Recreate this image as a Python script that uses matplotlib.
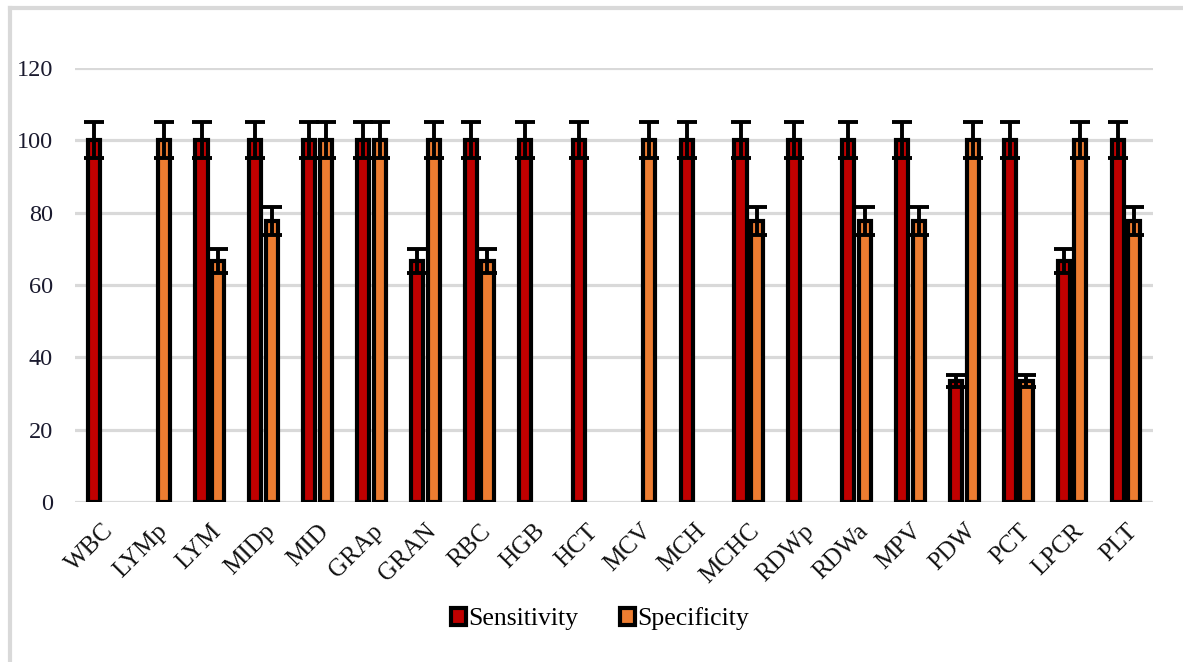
import numpy as np
import matplotlib.pyplot as plt
from matplotlib.lines import Line2D

params = ['WBC', 'LYMp', 'LYM', 'MIDp', 'MID', 'GRAp', 'GRAN', 'RBC', 'HGB', 'HCT',
          'MCV', 'MCH', 'MCHC', 'RDWp', 'RDWa', 'MPV', 'PDW', 'PCT', 'LPCR', 'PLT']
sensitivity = [100, np.nan, 100, 100, 100, 100, 66.67, 100, 100, 100,
               np.nan, 100, 100, 100, 100, 100, 33.33, 100, 66.67, 100]
specificity = [np.nan, 100, 66.67, 77.78, 100, 100, 100, 66.67, np.nan, np.nan,
               100, np.nan, 77.78, np.nan, 77.78, 77.78, 100, 33.33, 100, 77.78]
yticks = [0, 20, 40, 60, 80, 100, 120]

plt.rcParams['font.family'] = ['Liberation Serif', 'DejaVu Serif']

sens = np.array(sensitivity, dtype=float)
spec = np.array(specificity, dtype=float)
x = np.arange(len(params))

fig = plt.figure(figsize=(11.83, 6.62), dpi=100)
ax = fig.add_axes([75 / 1183, 1 - 502 / 662, (1153 - 75) / 1183, (502 - 68) / 662])

w = 0.225
off = 0.153
ax.bar(x - off, sens, w, color='#c00000', edgecolor='black', linewidth=3,
       label='Sensitivity', zorder=3)
ax.bar(x + off, spec, w, color='#ed7d31', edgecolor='black', linewidth=3,
       label='Specificity', zorder=3)

# 5% error bars
err_kw = dict(fmt='none', ecolor='black', elinewidth=2.8, capsize=7.2, capthick=2.8, zorder=4)
ax.errorbar(x - off, sens, yerr=sens * 0.05, **err_kw)
ax.errorbar(x + off, spec, yerr=spec * 0.05, **err_kw)

ax.set_xlim(-0.5, len(params) - 0.5)
ax.set_ylim(0, 120)
ax.set_yticks(yticks)
ax.yaxis.grid(True, color='#d9d9d9', linewidth=2.3, zorder=0)
ax.set_axisbelow(True)
for s in ax.spines.values():
    s.set_visible(False)

ax.set_xticks(x)
ax.set_xticklabels(params, rotation=45, ha='right', rotation_mode='anchor')
ax.tick_params(axis='x', length=0, pad=13, labelsize=18, labelcolor='#111111')
ax.tick_params(axis='y', length=0, pad=16, labelsize=17.5, labelcolor='#1a1a2e')

fig.legend(loc='center', bbox_to_anchor=(600 / 1183, 1 - 619 / 662), ncol=2,
           frameon=False, fontsize=18.5, handlelength=0.6, handleheight=0.6,
           handletextpad=0.1, columnspacing=1.6)

# outer chart border (left and top)
fig.add_artist(Line2D([9.5 / 1183, 9.5 / 1183], [0, 1 - 8 / 662], color='#d9d9d9',
                      linewidth=3, transform=fig.transFigure))
fig.add_artist(Line2D([9.5 / 1183, 1], [1 - 8 / 662, 1 - 8 / 662], color='#d9d9d9',
                      linewidth=3, transform=fig.transFigure))

fig.savefig('out.png', dpi=100)
